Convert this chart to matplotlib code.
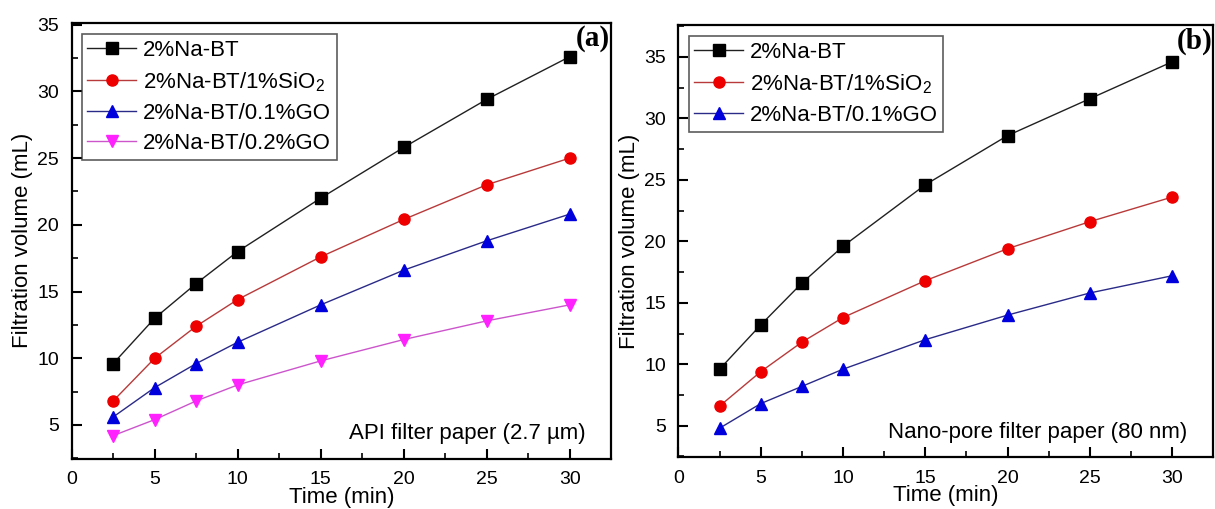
import matplotlib
matplotlib.use("Agg")
import matplotlib.pyplot as plt
from matplotlib.ticker import MultipleLocator

plt.rcParams['font.family'] = ['Liberation Sans', 'DejaVu Sans']
plt.rcParams['mathtext.fontset'] = 'custom'
plt.rcParams['mathtext.rm'] = 'Liberation Sans'
plt.rcParams['mathtext.it'] = 'Liberation Sans'

# tiempos de filtrado (min)
time_min = [2.5, 5, 7.5, 10, 15, 20, 25, 30]

# (a) papel filtro API
a_nabt = [9.6, 13.0, 15.6, 18.0, 22.0, 25.8, 29.4, 32.6]
a_sio2 = [6.8, 10.0, 12.4, 14.4, 17.6, 20.4, 23.0, 25.0]
a_go01 = [5.6, 7.8, 9.6, 11.2, 14.0, 16.6, 18.8, 20.8]
a_go02 = [4.2, 5.4, 6.8, 8.0, 9.8, 11.4, 12.8, 14.0]

# (b) papel filtro nano-poro
b_nabt = [9.6, 13.2, 16.6, 19.6, 24.6, 28.6, 31.6, 34.6]
b_sio2 = [6.6, 9.4, 11.8, 13.8, 16.8, 19.4, 21.6, 23.6]
b_go01 = [4.8, 6.8, 8.2, 9.6, 12.0, 14.0, 15.8, 17.2]

labels = ['2%Na-BT', '2%Na-BT/1%SiO$_2$', '2%Na-BT/0.1%GO', '2%Na-BT/0.2%GO']

# estilo de cada serie: marcador, color del marcador, color de la linea
styles = [
    ('s', '#000000', '#202020'),
    ('o', '#ee0000', '#b83a3a'),
    ('^', '#0000dd', '#2a2a88'),
    ('v', '#ff22ff', '#cc55cc'),
]

fig = plt.figure(figsize=(12.15, 5.09), dpi=100)
ax_a = fig.add_axes([0.059, 0.0988, 0.444, 0.8566])
ax_b = fig.add_axes([0.5584, 0.102, 0.4402, 0.849])


def draw_panel(ax, series, ylim, note, tag):
    for (vals, lab), (mk, mc, lc) in zip(series, styles):
        ax.plot(time_min, vals, color=lc, lw=1.0, marker=mk, ms=8,
                mfc=mc, mec=mc, label=lab)
    ax.set_xlim(0, 32.5)
    ax.set_ylim(*ylim)
    ax.xaxis.set_major_locator(MultipleLocator(5))
    ax.xaxis.set_minor_locator(MultipleLocator(2.5))
    ax.yaxis.set_major_locator(MultipleLocator(5))
    ax.yaxis.set_minor_locator(MultipleLocator(2.5))
    ax.tick_params(which='major', direction='in', length=7, width=1.5,
                   labelsize=14, pad=9)
    ax.tick_params(which='minor', direction='in', length=4, width=1.2)
    for sp in ax.spines.values():
        sp.set_linewidth(1.6)
    ax.set_xlabel('Time (min)', fontsize=16, labelpad=-1)
    ax.set_ylabel('Filtration volume (mL)', fontsize=16, labelpad=3)
    leg = ax.legend(loc='upper left', bbox_to_anchor=(0.019, 0.974),
                    borderaxespad=0, fontsize=16, frameon=True,
                    fancybox=False, edgecolor='#333333', handlelength=2.2,
                    handletextpad=0.3, labelspacing=0.42, borderpad=0.25,
                    markerscale=1.0)
    leg.get_frame().set_linewidth(1.2)
    ax.text(0.952, 0.058, note, transform=ax.transAxes, ha='right',
            va='center', fontsize=16)
    ax.text(0.998, 0.963, tag, transform=ax.transAxes, ha='right',
            va='center', fontsize=21, fontweight='bold',
            family='Liberation Serif')


draw_panel(ax_a, list(zip([a_nabt, a_sio2, a_go01, a_go02], labels)),
           (2.47, 35.15), 'API filter paper (2.7 µm)', '(a)')
draw_panel(ax_b, list(zip([b_nabt, b_sio2, b_go01], labels[:3])),
           (2.45, 37.6), 'Nano-pore filter paper (80 nm)', '(b)')

fig.savefig('out.png', dpi=100)
